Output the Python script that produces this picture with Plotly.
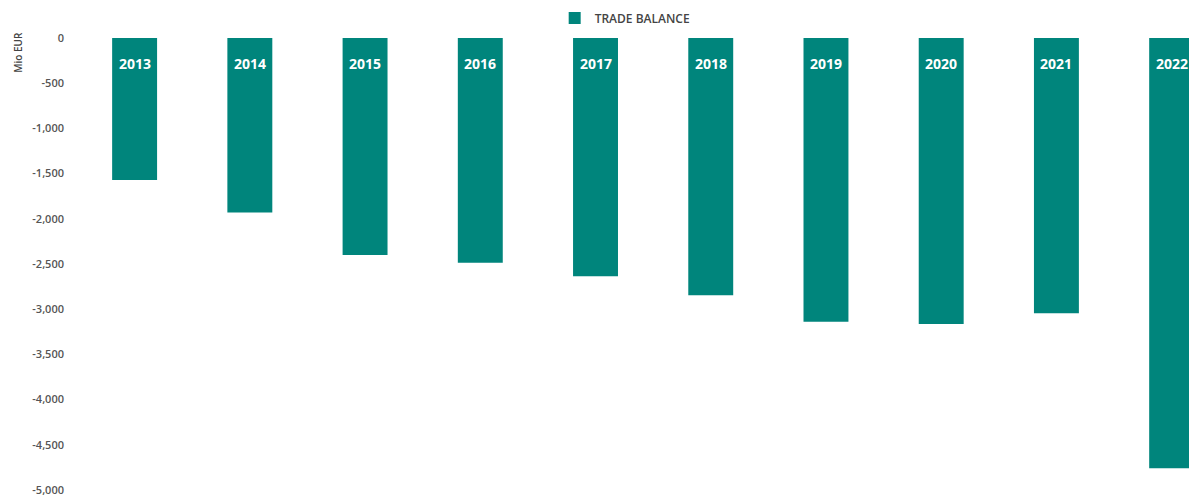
import plotly.graph_objects as go

years = ["2013", "2014", "2015", "2016", "2017", "2018", "2019", "2020", "2021", "2022"]
trade_balance = [-1570, -1930, -2400, -2485, -2635, -2845, -3140, -3165, -3045, -4760]
y_ticks = [0, -500, -1000, -1500, -2000, -2500, -3000, -3500, -4000, -4500, -5000]
y_tick_labels = [f"{v:,}" for v in y_ticks]

BAR = "#00857c"

fig = go.Figure()
fig.add_trace(go.Bar(
    x=years, y=trade_balance, name="TRADE BALANCE",
    marker=dict(color=BAR, line=dict(width=0)),
))

for i, yr in enumerate(years):
    fig.add_annotation(x=i, y=0, text="<b>%s</b>" % yr, showarrow=False,
                       xref="x", yref="y",
                       yanchor="top", yshift=-14,
                       font=dict(color="white", size=14, family="Open Sans"))

fig.add_annotation(xref="paper", yref="paper", x=-0.0524, y=1.018, text="Mio EUR",
                   textangle=-90, showarrow=False, xanchor="center", yanchor="top",
                   font=dict(size=10, color="#444", family="Open Sans", weight=600))

fig.update_layout(
    width=1189, height=491,
    margin=dict(l=69, r=0, t=30, b=9, autoexpand=False),
    plot_bgcolor="white", paper_bgcolor="white",
    bargap=0.61,
    showlegend=True,
    legend=dict(orientation="h", x=0.489, xanchor="center", y=1.044, yanchor="middle",
                font=dict(size=12, color="#444", family="Open Sans", weight=600),
                itemwidth=30),
    xaxis=dict(type="category", showticklabels=False, showgrid=False, zeroline=False,
               showline=False, range=[-0.5, 9.22]),
    yaxis=dict(range=[-5000, 0], tickvals=y_ticks, ticktext=y_tick_labels, showgrid=False,
               zeroline=False, showline=False, ticks="", ticklabelstandoff=12,
               tickfont=dict(size=11, color="#555", family="Open Sans", weight=600)),
    font=dict(family="Open Sans"),
)

fig.write_html("out.html")
